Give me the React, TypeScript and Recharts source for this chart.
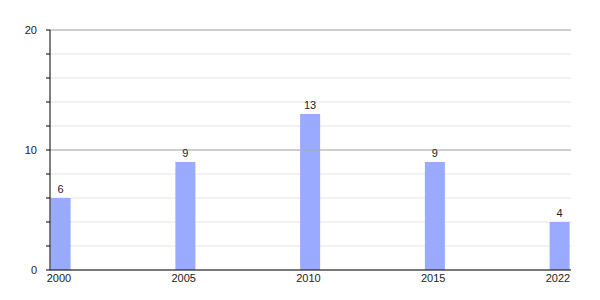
import React from 'react';
import { BarChart, Bar, XAxis, YAxis, CartesianGrid, ReferenceLine, LabelList } from 'recharts';

const years = ['2000', '2005', '2010', '2015', '2022'];
const counts = [6, 9, 13, 9, 4];
const yTicks = [0, 2, 4, 6, 8, 10, 12, 14, 16, 18, 20];

const data = years.map((y, i) => ({ year: y, value: counts[i] }));

const FONT = '"Liberation Sans", Arial, sans-serif';

const YTick = (props: any) => {
  const { x, y, payload } = props;
  const v = payload.value;
  return (
    <g>
      <line x1={x} x2={x + 4} y1={y} y2={y} stroke="#000" strokeWidth={1} />
      {v % 10 === 0 ? (
        <text x={x - 9} y={y} dy={4} textAnchor="end" fontSize={11} fontFamily={FONT} fill="#222">
          {v}
        </text>
      ) : null}
    </g>
  );
};

const XTick = (props: any) => {
  const { x, payload } = props;
  return (
    <text x={x - 2} y={282} textAnchor="middle" fontSize={11} fontFamily={FONT} fill="#222">
      {payload.value}
    </text>
  );
};

export default function App() {
  return (
    <div style={{ position: 'absolute', left: 0, top: 0, background: '#fff' }}>
      <BarChart width={600} height={300} data={data} margin={{ top: 30, right: 29, bottom: 0, left: 0 }}>
        <CartesianGrid vertical={false} stroke="#e4e4e4" />
        <ReferenceLine y={10} stroke="#aaaaaa" />
        <ReferenceLine y={20} stroke="#aaaaaa" />
        <XAxis
          dataKey="year"
          scale="point"
          padding={{ left: 11, right: 11 }}
          axisLine={{ stroke: '#000' }}
          tickLine={false}
          height={30}
          tick={<XTick />}
          interval={0}
        />
        <YAxis
          domain={[0, 20]}
          ticks={yTicks}
          width={50}
          axisLine={{ stroke: '#000' }}
          tickLine={false}
          tick={<YTick />}
          tickSize={4}
          tickMargin={0}
          interval={0}
        />
        <Bar dataKey="value" fill="#99aaff" barSize={20} isAnimationActive={false}>
          <LabelList dataKey="value" position="top" fontSize={11} fontFamily={FONT} fill="#222" />
        </Bar>
      </BarChart>
    </div>
  );
}
